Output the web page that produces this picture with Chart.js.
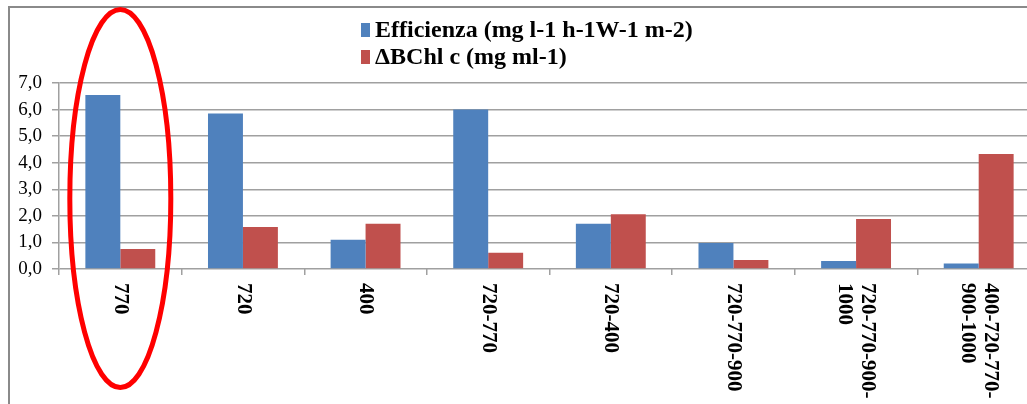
<!DOCTYPE html>
<html>
<head>
<meta charset="utf-8">
<script src="https://cdn.jsdelivr.net/npm/chart.js@4.4.1/dist/chart.umd.min.js"></script>
<style>
    html, body { margin: 0; padding: 0; overflow: hidden; background: #fff; }
    #wrap { position: relative; width: 1027px; height: 404px; overflow: hidden; }
    #frame { position: absolute; left: 8px; top: 6px; right: -10px; bottom: -10px;
             border-top: 2px solid #8a8a8a; border-left: 2px solid #8a8a8a; }
    #box { position: absolute; left: 0; top: 0; width: 1050px; height: 404px; }
    #legend { position: absolute; left: 361px; top: 16px; font: bold 24px "Liberation Serif", "Times New Roman", serif; color: #000; }
    #legend .row { height: 27px; line-height: 27px; white-space: nowrap; }
    #legend .key { display: inline-block; width: 9px; height: 14px; margin-right: 5px; vertical-align: 0px; }
</style>
</head>
<body>
<div id="wrap">
    <div id="frame"></div>
    <div id="box"><canvas id="chart"></canvas></div>
    <div id="legend"></div>
</div>
<script>
// dati del grafico
var categories = ['770', '720', '400', '720-770', '720-400', '720-770-900',
    ['720-770-900-', '1000'], ['400-720-770-', '900-1000']];
var efficienza = [6.55, 5.85, 1.1, 6.0, 1.7, 0.98, 0.3, 0.21];
var deltaBChl = [0.75, 1.58, 1.7, 0.61, 2.06, 0.34, 1.88, 4.33];
var seriesNames = ['Efficienza (mg l-1 h-1W-1 m-2)', '\u0394BChl c (mg ml-1)'];
var seriesColors = ['#4f81bd', '#c0504d'];
var yMin = 0, yMax = 7, yStep = 1;

// etichette asse x ruotate (lette dall'alto in basso)
var xLabelsPlugin = {
    id: 'xLabels',
    afterDraw: function(chart) {
        var ctx = chart.ctx;
        var scale = chart.scales.x;
        var top = chart.chartArea.bottom + 14;
        ctx.save();
        ctx.font = 'bold 21px "Liberation Serif", "Times New Roman", serif';
        ctx.fillStyle = '#000';
        ctx.textAlign = 'left';
        ctx.textBaseline = 'middle';
        categories.forEach(function(label, i) {
            var lines = Array.isArray(label) ? label : [label];
            var x = scale.getPixelForTick(i);
            ctx.save();
            ctx.translate(x, top);
            ctx.rotate(Math.PI / 2);
            lines.forEach(function(line, j) {
                ctx.fillText(line, 0, (j - (lines.length - 1) / 2) * 23);
            });
            ctx.restore();
        });
        ctx.restore();
    }
};

// ellisse rossa attorno alla prima categoria
var ellipsePlugin = {
    id: 'redEllipse',
    afterDraw: function(chart) {
        var ctx = chart.ctx;
        var cx = chart.scales.x.getPixelForTick(0);
        ctx.save();
        ctx.strokeStyle = '#ff0000';
        ctx.lineWidth = 5;
        ctx.beginPath();
        ctx.ellipse(cx, 198.5, 50.5, 189, 0, 0, Math.PI * 2);
        ctx.stroke();
        ctx.restore();
    }
};

var chart = new Chart(document.getElementById('chart'), {
    type: 'bar',
    data: {
        labels: categories,
        datasets: [{
            label: seriesNames[0],
            data: efficienza,
            backgroundColor: seriesColors[0]
        }, {
            label: seriesNames[1],
            data: deltaBChl,
            backgroundColor: seriesColors[1]
        }]
    },
    options: {
        responsive: true,
        maintainAspectRatio: false,
        animation: false,
        layout: { padding: { top: 83, right: 10, left: 0, bottom: 0 } },
        datasets: { bar: { categoryPercentage: 0.57, barPercentage: 1.0 } },
        plugins: {
            legend: { display: false },
            tooltip: { enabled: false }
        },
        scales: {
            x: {
                grid: { drawOnChartArea: false, drawTicks: true, tickLength: 6, color: '#a0a0a0', lineWidth: 1.5 },
                border: { display: false },
                ticks: { display: false },
                afterFit: function(scale) { scale.height = 135; }
            },
            y: {
                min: yMin,
                max: yMax,
                grid: { color: '#a0a0a0', lineWidth: 1.5, tickLength: 7 },
                border: { color: '#a0a0a0', width: 1.5 },
                ticks: {
                    stepSize: yStep,
                    autoSkip: false,
                    padding: 10,
                    color: '#000',
                    font: { family: '"Liberation Serif", "Times New Roman", serif', size: 19 },
                    callback: function(v) { return v.toFixed(1).replace('.', ','); }
                },
                afterFit: function(scale) { scale.width = 59; }
            }
        }
    },
    plugins: [xLabelsPlugin, ellipsePlugin]
});

// legenda HTML costruita dai dataset
var html = '';
chart.data.datasets.forEach(function(ds) {
    html += '<div class="row"><span class="key" style="background:' + ds.backgroundColor + '"></span>' + ds.label + '</div>';
});
document.getElementById('legend').innerHTML = html;
</script>
</body>
</html>
